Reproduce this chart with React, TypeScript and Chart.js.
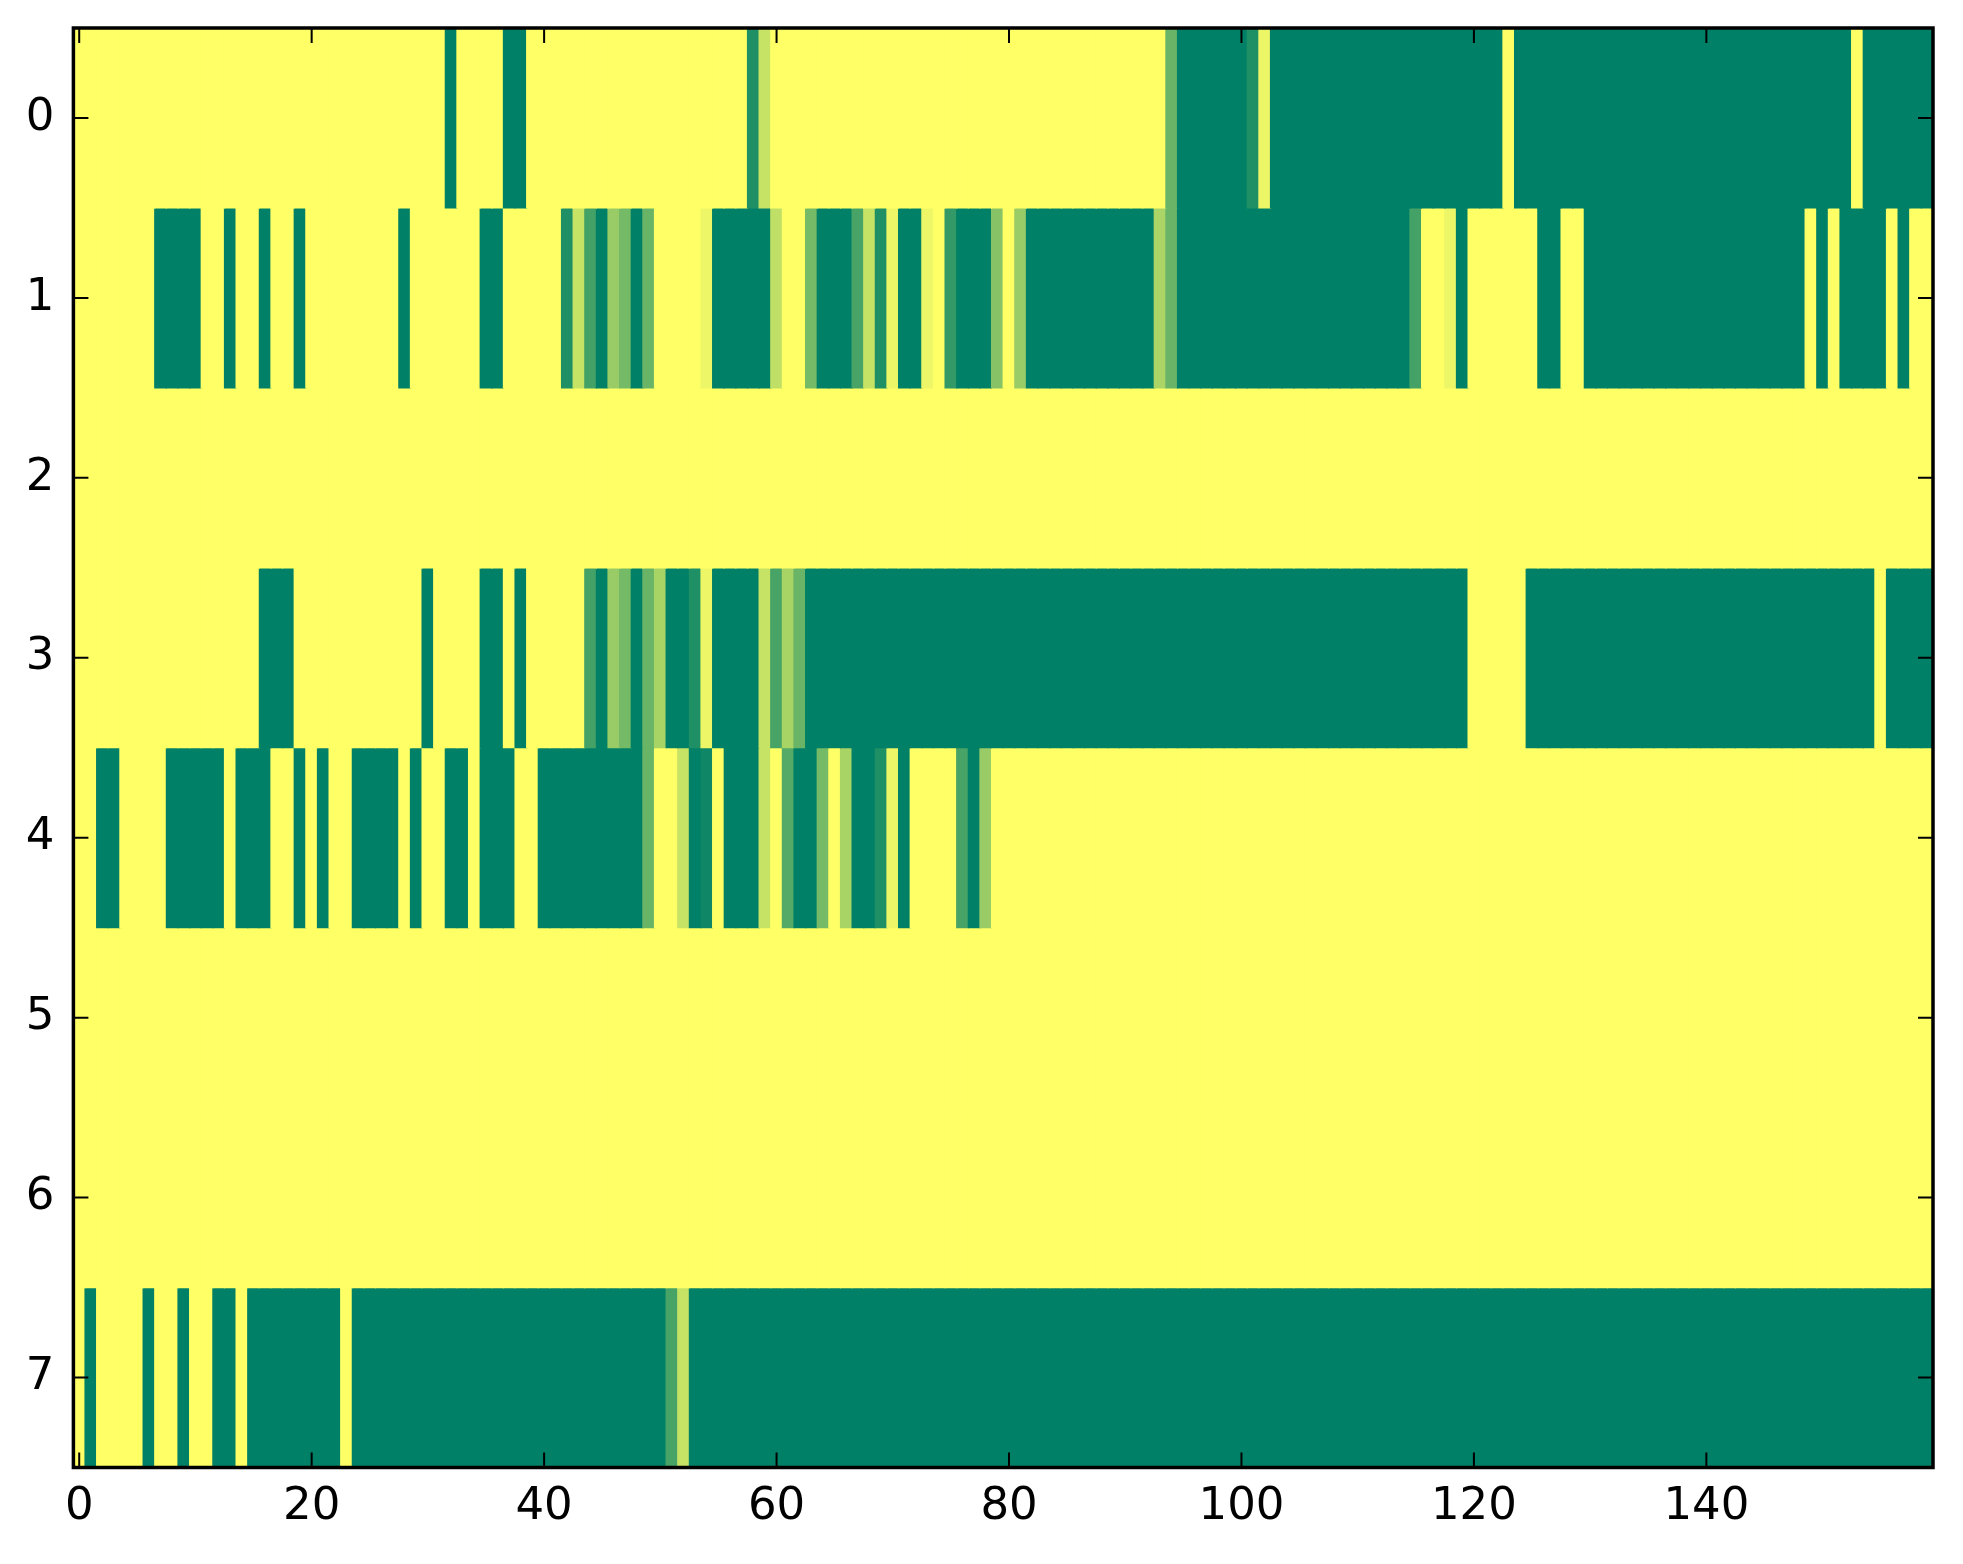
import React, { useEffect, useRef } from "react";
import Chart from "chart.js/auto";

// Column index labels (x) and row labels (y)
const xTickValues = [0, 20, 40, 60, 80, 100, 120, 140];
const yTickValues = [0, 1, 2, 3, 4, 5, 6, 7];
const numColumns = 160;

// Cell values (0 = dark green, 1 = yellow), 160 columns per row
const row0 = [
  1,1,1,1,1,1,1,1,1,1,1,1,1,1,1,1,1,1,1,1,
  1,1,1,1,1,1,1,1,1,1,1,1,0,1,1,1,1,0,0,1,
  1,1,1,1,1,1,1,1,1,1,1,1,1,1,1,1,1,1,0.12,0.78,
  1,1,1,1,1,1,1,1,1,1,1,1,1,1,1,1,1,1,1,1,
  1,1,1,1,1,1,1,1,1,1,1,1,1,1,0.41,0,0,0,0,0,
  0,0.12,0.93,0,0,0,0,0,0,0,0,0,0,0,0,0,0,0,0,0,
  0,0,0,1,0,0,0,0,0,0,0,0,0,0,0,0,0,0,0,0,
  0,0,0,0,0,0,0,0,0,0,0,0,0,1,0,0,0,0,0,0,
];
const row1 = [
  1,1,1,1,1,1,1,0,0,0,0,1,1,0,1,1,0,1,1,0,
  1,1,1,1,1,1,1,1,0,1,1,1,1,1,1,0,0,1,1,1,
  1,1,0.12,0.78,0.27,0,0.6,0.46,0,0.41,1,1,1,1,0.93,0,0,0,0,0,
  0.75,1,1,0.46,0,0,0,0.28,0.78,0.12,0.93,0,0,0.93,1,0.2,0,0,0,0.53,
  1,0.6,0,0,0,0,0,0,0,0,0,0,0,0.67,0.41,0,0,0,0,0,
  0,0,0,0,0,0,0,0,0,0,0,0,0,0,0,0.27,1,1,0.93,0,
  1,1,1,1,1,1,0,0,1,1,0,0,0,0,0,0,0,0,0,0,
  0,0,0,0,0,0,0,0,0,1,0,1,0,0,0,0,1,0,1,1,
];
const row2 = [
  1,1,1,1,1,1,1,1,1,1,1,1,1,1,1,1,1,1,1,1,
  1,1,1,1,1,1,1,1,1,1,1,1,1,1,1,1,1,1,1,1,
  1,1,1,1,1,1,1,1,1,1,1,1,1,1,1,1,1,1,1,1,
  1,1,1,1,1,1,1,1,1,1,1,1,1,1,1,1,1,1,1,1,
  1,1,1,1,1,1,1,1,1,1,1,1,1,1,1,1,1,1,1,1,
  1,1,1,1,1,1,1,1,1,1,1,1,1,1,1,1,1,1,1,1,
  1,1,1,1,1,1,1,1,1,1,1,1,1,1,1,1,1,1,1,1,
  1,1,1,1,1,1,1,1,1,1,1,1,1,1,1,1,1,1,1,1,
];
const row3 = [
  1,1,1,1,1,1,1,1,1,1,1,1,1,1,1,1,0,0,0,1,
  1,1,1,1,1,1,1,1,1,1,0,1,1,1,1,0,0,1,0,1,
  1,1,1,1,0.27,0,0.6,0.46,0,0.41,0.66,0,0,0.12,0.93,0,0,0,0,0.78,
  0.28,0.66,0.41,0,0,0,0,0,0,0,0,0,0,0,0,0,0,0,0,0,
  0,0,0,0,0,0,0,0,0,0,0,0,0,0,0,0,0,0,0,0,
  0,0,0,0,0,0,0,0,0,0,0,0,0,0,0,0,0,0,0,0,
  1,1,1,1,1,0,0,0,0,0,0,0,0,0,0,0,0,0,0,0,
  0,0,0,0,0,0,0,0,0,0,0,0,0,0,0,1,0,0,0,0,
];
const row4 = [
  1,1,0,0,1,1,1,1,0,0,0,0,0,1,0,0,0,1,1,0,
  1,0,1,1,0,0,0,0,1,0,1,1,0,0,1,0,0,0,1,1,
  0,0,0,0,0,0,0,0,0,0.41,1,1,0.78,0,0.06,1,0,0,0,0.78,
  1,0.33,0,0,0.46,1,0.66,0,0,0.12,0.93,0,1,1,1,1,0.28,0,0.6,1,
  1,1,1,1,1,1,1,1,1,1,1,1,1,1,1,1,1,1,1,1,
  1,1,1,1,1,1,1,1,1,1,1,1,1,1,1,1,1,1,1,1,
  1,1,1,1,1,1,1,1,1,1,1,1,1,1,1,1,1,1,1,1,
  1,1,1,1,1,1,1,1,1,1,1,1,1,1,1,1,1,1,1,1,
];
const row5 = [
  1,1,1,1,1,1,1,1,1,1,1,1,1,1,1,1,1,1,1,1,
  1,1,1,1,1,1,1,1,1,1,1,1,1,1,1,1,1,1,1,1,
  1,1,1,1,1,1,1,1,1,1,1,1,1,1,1,1,1,1,1,1,
  1,1,1,1,1,1,1,1,1,1,1,1,1,1,1,1,1,1,1,1,
  1,1,1,1,1,1,1,1,1,1,1,1,1,1,1,1,1,1,1,1,
  1,1,1,1,1,1,1,1,1,1,1,1,1,1,1,1,1,1,1,1,
  1,1,1,1,1,1,1,1,1,1,1,1,1,1,1,1,1,1,1,1,
  1,1,1,1,1,1,1,1,1,1,1,1,1,1,1,1,1,1,1,1,
];
const row6 = [
  1,1,1,1,1,1,1,1,1,1,1,1,1,1,1,1,1,1,1,1,
  1,1,1,1,1,1,1,1,1,1,1,1,1,1,1,1,1,1,1,1,
  1,1,1,1,1,1,1,1,1,1,1,1,1,1,1,1,1,1,1,1,
  1,1,1,1,1,1,1,1,1,1,1,1,1,1,1,1,1,1,1,1,
  1,1,1,1,1,1,1,1,1,1,1,1,1,1,1,1,1,1,1,1,
  1,1,1,1,1,1,1,1,1,1,1,1,1,1,1,1,1,1,1,1,
  1,1,1,1,1,1,1,1,1,1,1,1,1,1,1,1,1,1,1,1,
  1,1,1,1,1,1,1,1,1,1,1,1,1,1,1,1,1,1,1,1,
];
const row7 = [
  1,0,1,1,1,1,0,1,1,0,1,1,0,0,1,0,0,0,0,0,
  0,0,0,1,0,0,0,0,0,0,0,0,0,0,0,0,0,0,0,0,
  0,0,0,0,0,0,0,0,0,0,0,0.28,0.78,0,0,0,0,0,0,0,
  0,0,0,0,0,0,0,0,0,0,0,0,0,0,0,0,0,0,0,0,
  0,0,0,0,0,0,0,0,0,0,0,0,0,0,0,0,0,0,0,0,
  0,0,0,0,0,0,0,0,0,0,0,0,0,0,0,0,0,0,0,0,
  0,0,0,0,0,0,0,0,0,0,0,0,0,0,0,0,0,0,0,0,
  0,0,0,0,0,0,0,0,0,0,0,0,0,0,0,0,0,0,0,0,
];

const rows = [row0, row1, row2, row3, row4, row5, row6, row7];

// matplotlib "summer" colormap
function summer(v: number): string {
  const r = Math.round(v * 255);
  const g = Math.round((0.5 + 0.5 * v) * 255);
  const b = 102;
  return `rgb(${r},${g},${b})`;
}

const FONT = { family: "'DejaVu Sans', 'Liberation Sans', sans-serif", size: 45 };

const frameTicksPlugin = {
  id: "frameTicks",
  afterDraw(chart: any) {
    const { ctx, chartArea } = chart;
    const xs = chart.scales.x;
    const ys = chart.scales.y;
    const L = chartArea.left, R = chartArea.right, T = chartArea.top, B = chartArea.bottom;
    const tl = 15;
    ctx.save();
    ctx.strokeStyle = "#000";
    ctx.lineWidth = 2;
    ctx.beginPath();
    for (const v of xTickValues) {
      const px = xs.getPixelForValue(v);
      ctx.moveTo(px, B);
      ctx.lineTo(px, B - tl);
      ctx.moveTo(px, T);
      ctx.lineTo(px, T + tl);
    }
    for (const v of yTickValues) {
      const py = ys.getPixelForValue(v);
      ctx.moveTo(L, py);
      ctx.lineTo(L + tl, py);
      ctx.moveTo(R, py);
      ctx.lineTo(R - tl, py);
    }
    ctx.stroke();
    ctx.lineWidth = 3.5;
    ctx.strokeRect(L, T, R - L, B - T);
    ctx.restore();
  },
};

export default function App() {
  const canvasRef = useRef<HTMLCanvasElement | null>(null);

  useEffect(() => {
    if (!canvasRef.current) return;
    const datasets = rows.map((vals, r) => ({
      label: `row ${r}`,
      data: vals.map((v, i) => ({ x: i, y: [r - 0.5, r + 0.5] })),
      backgroundColor: vals.map((v) => summer(v)),
      borderWidth: 0,
      grouped: false,
      barPercentage: 1,
      categoryPercentage: 1,
      inflateAmount: 0.6,
    }));

    const chart = new Chart(canvasRef.current, {
      type: "bar",
      data: { datasets: datasets as any },
      options: {
        animation: false,
        responsive: false,
        devicePixelRatio: 1,
        events: [],
        layout: { padding: { top: 28, right: 30, left: 0, bottom: 0 } },
        plugins: { legend: { display: false }, tooltip: { enabled: false } },
        scales: {
          x: {
            type: "linear",
            min: -0.5,
            max: numColumns - 0.5,
            offset: false,
            grid: { display: false, drawTicks: false },
            border: { display: false },
            ticks: {
              color: "#000",
              font: FONT,
              padding: 13,
              maxRotation: 0,
              callback: (v: any) => String(v),
            },
            afterBuildTicks: (scale: any) => {
              scale.ticks = xTickValues.map((v) => ({ value: v }));
            },
            afterFit: (scale: any) => {
              scale.height = 96.5;
              scale.paddingLeft = 0;
              scale.paddingRight = 0;
            },
          },
          y: {
            type: "linear",
            min: -0.5,
            max: 7.5,
            reverse: true,
            grid: { display: false, drawTicks: false },
            border: { display: false },
            ticks: {
              color: "#000",
              font: FONT,
              padding: 19,
              callback: (v: any) => String(v),
            },
            afterBuildTicks: (scale: any) => {
              scale.ticks = yTickValues.map((v) => ({ value: v }));
            },
            afterFit: (scale: any) => {
              scale.width = 73.4;
              scale.paddingTop = 0;
              scale.paddingBottom = 0;
            },
          },
        },
      },
      plugins: [frameTicksPlugin],
    });
    return () => chart.destroy();
  }, []);

  return (
    <div style={{ position: "fixed", left: 0, top: 0, width: 1963, height: 1564, background: "#fff" }}>
      <canvas ref={canvasRef} width={1963} height={1564} style={{ width: 1963, height: 1564, display: "block" }} />
    </div>
  );
}
